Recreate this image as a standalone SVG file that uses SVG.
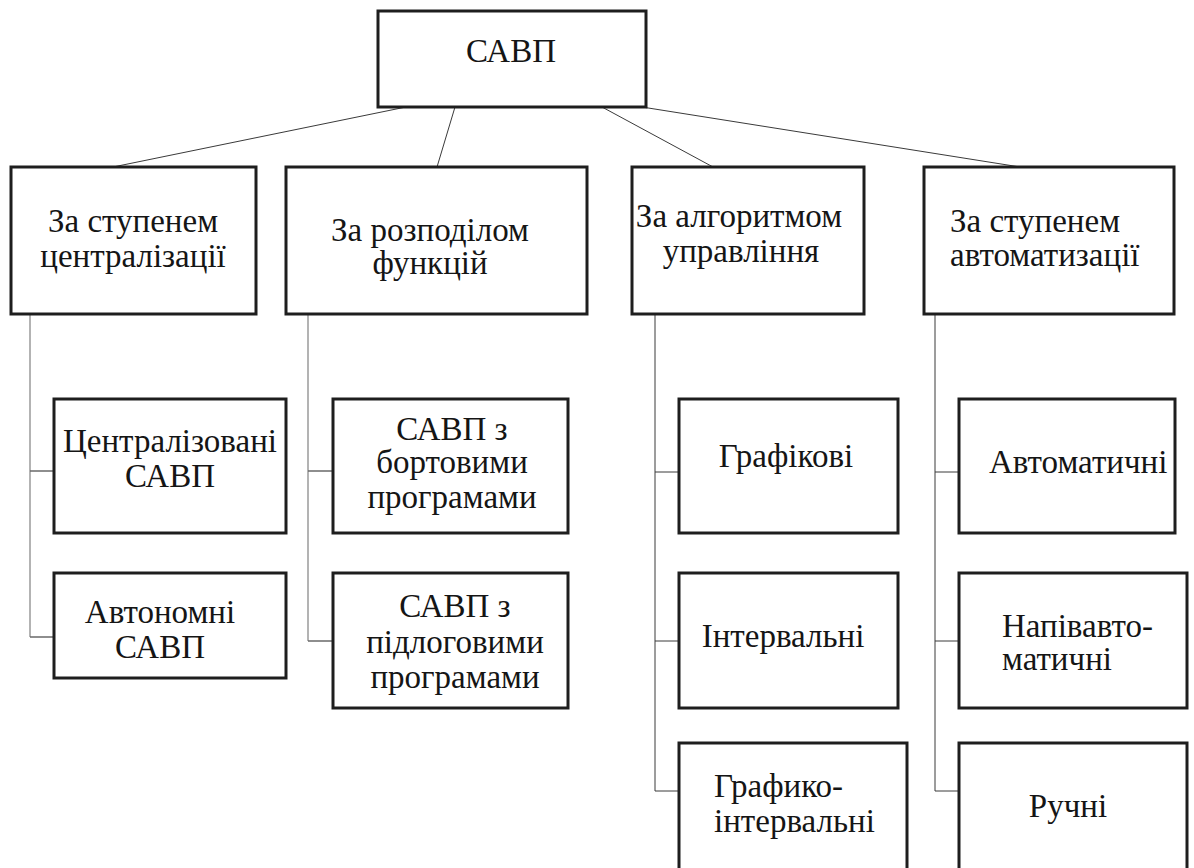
<svg xmlns="http://www.w3.org/2000/svg" width="1194" height="868" viewBox="0 0 1194 868">
<rect width="1194" height="868" fill="#fff"/>
<g id="connectors" fill="none">
<g stroke="#3a3a3a" stroke-width="1">
<line x1="406" y1="107" x2="113" y2="167"/>
<line x1="455" y1="107" x2="437" y2="167"/>
<line x1="602" y1="107" x2="713" y2="167"/>
<line x1="642" y1="107" x2="1020" y2="167"/>
<path d="M655 314 V791 H679 M655 472 H679 M655 641 H679"/>
<path d="M935 314 V791 H959 M935 472 H959 M935 641 H959"/>
</g>
<path stroke="#9a9a9a" stroke-width="1.5" d="M30 314 V637 M308 314 V641"/>
<path stroke="#6a6a6a" stroke-width="1.5" d="M30 471 H54 M30 637 H54 M308 471 H333 M308 641 H333"/>
</g>
<g fill="#fff" stroke="#1e1e1e" stroke-width="3">
<rect id="root-box" x="378" y="11" width="268" height="96"/>
<rect id="n1-box" x="11" y="167" width="245" height="147"/>
<rect id="n2-box" x="286" y="167" width="301" height="147"/>
<rect id="n3-box" x="632" y="167" width="232" height="147"/>
<rect id="n4-box" x="924" y="167" width="250" height="147"/>
<rect id="n1a-box" x="54" y="399" width="232" height="134"/>
<rect id="n1b-box" x="54" y="573" width="232" height="105"/>
<rect id="n2a-box" x="333" y="399" width="235" height="134"/>
<rect id="n2b-box" x="333" y="573" width="235" height="135"/>
<rect id="n3a-box" x="679" y="399" width="219" height="134"/>
<rect id="n3b-box" x="679" y="573" width="219" height="135"/>
<rect id="n3c-box" x="679" y="743" width="228" height="135"/>
<rect id="n4a-box" x="959" y="399" width="216" height="134"/>
<rect id="n4b-box" x="959" y="573" width="228" height="135"/>
<rect id="n4c-box" x="959" y="743" width="228" height="135"/>
</g>
<g style="font-family:'Liberation Serif',serif;font-size:33px;fill:#151515">
<text style="font-family:'Liberation Serif',serif" text-anchor="middle" x="511" y="62">САВП</text>
<text style="font-family:'Liberation Serif',serif" text-anchor="middle" x="133" y="232">За ступенем</text>
<text style="font-family:'Liberation Serif',serif" text-anchor="middle" x="133" y="267">централізації</text>
<text style="font-family:'Liberation Serif',serif" text-anchor="middle" x="430" y="241">За розподілом</text>
<text style="font-family:'Liberation Serif',serif" text-anchor="middle" x="430" y="274">функцій</text>
<text style="font-family:'Liberation Serif',serif" text-anchor="middle" x="739" y="227">За алгоритмом</text>
<text style="font-family:'Liberation Serif',serif" text-anchor="middle" x="741" y="262">управління</text>
<text style="font-family:'Liberation Serif',serif" x="950" y="232">За ступенем</text>
<text style="font-family:'Liberation Serif',serif" x="950" y="266">автоматизації</text>
<text style="font-family:'Liberation Serif',serif" text-anchor="middle" x="170" y="452">Централізовані</text>
<text style="font-family:'Liberation Serif',serif" text-anchor="middle" x="170" y="487">САВП</text>
<text style="font-family:'Liberation Serif',serif" text-anchor="middle" x="160" y="623">Автономні</text>
<text style="font-family:'Liberation Serif',serif" text-anchor="middle" x="160" y="658">САВП</text>
<text style="font-family:'Liberation Serif',serif" text-anchor="middle" x="452" y="440">САВП з</text>
<text style="font-family:'Liberation Serif',serif" text-anchor="middle" x="452" y="473">бортовими</text>
<text style="font-family:'Liberation Serif',serif" text-anchor="middle" x="452" y="508">програмами</text>
<text style="font-family:'Liberation Serif',serif" text-anchor="middle" x="455" y="617">САВП з</text>
<text style="font-family:'Liberation Serif',serif" text-anchor="middle" x="455" y="653">підлоговими</text>
<text style="font-family:'Liberation Serif',serif" text-anchor="middle" x="455" y="688">програмами</text>
<text style="font-family:'Liberation Serif',serif" text-anchor="middle" x="786" y="467">Графікові</text>
<text style="font-family:'Liberation Serif',serif" text-anchor="middle" x="783" y="647">Інтервальні</text>
<text style="font-family:'Liberation Serif',serif" x="714" y="797">Графико-</text>
<text style="font-family:'Liberation Serif',serif" x="714" y="832">інтервальні</text>
<text style="font-family:'Liberation Serif',serif" x="989" y="473">Автоматичні</text>
<text style="font-family:'Liberation Serif',serif" x="1002" y="637">Напівавто-</text>
<text style="font-family:'Liberation Serif',serif" x="1002" y="670">матичні</text>
<text style="font-family:'Liberation Serif',serif" text-anchor="middle" x="1068" y="817">Ручні</text>
</g>
</svg>
